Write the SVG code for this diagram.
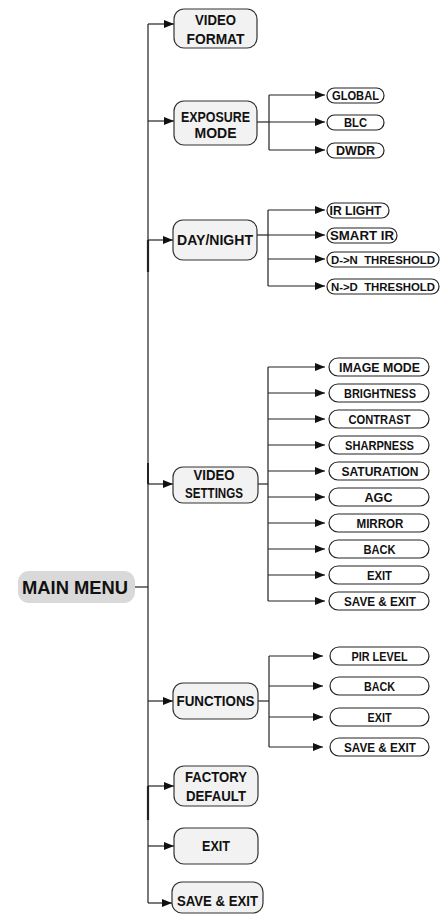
<svg xmlns="http://www.w3.org/2000/svg" width="441" height="914" viewBox="0 0 441 914">
<defs>
<marker id="ah" markerWidth="10" markerHeight="8" refX="10" refY="4" orient="auto" markerUnits="userSpaceOnUse">
<path d="M0,0 L10,4 L0,8 Z" fill="#111"/>
</marker>
<style>
.ln{stroke:#222;stroke-width:1.2;fill:none}
.ar{stroke:#222;stroke-width:1.2;fill:none;marker-end:url(#ah)}
.mn{fill:#f2f2f2;stroke:#333;stroke-width:1.2}
.lf{fill:#fff;stroke:#222;stroke-width:1.2}
.t{font-family:"Liberation Sans",Arial,sans-serif;font-weight:bold;font-size:15px;fill:#111;text-anchor:middle}
.s{font-family:"Liberation Sans",Arial,sans-serif;font-weight:bold;font-size:12.5px;fill:#111;text-anchor:middle}
</style>
</defs>
<rect width="441" height="914" fill="#fff"/>
<g id="connectors">
<line class="ln" x1="148" y1="24" x2="148" y2="903"/>
<line x1="148" y1="240" x2="148" y2="272" stroke="#222" stroke-width="2.2"/>
<line x1="148" y1="786" x2="148" y2="820" stroke="#222" stroke-width="2.2"/>
<line x1="148" y1="463" x2="148" y2="484" stroke="#222" stroke-width="2"/>
<line class="ln" x1="135" y1="587" x2="148" y2="587"/>
<path class="ar" d="M148,24 H174"/>
<path class="ar" d="M148,121 H174"/>
<path class="ar" d="M148,240 H173"/>
<path class="ar" d="M148,484 H173"/>
<path class="ar" d="M148,701 H173"/>
<path class="ar" d="M148,786 H174"/>
<path class="ar" d="M148,846 H174"/>
<path class="ar" d="M148,903 H172"/>
<line class="ln" x1="257" y1="122" x2="269" y2="122"/>
<line class="ln" x1="269" y1="95" x2="269" y2="150"/>
<path class="ar" d="M269,95 H325"/>
<path class="ar" d="M269,122 H325"/>
<path class="ar" d="M269,150 H325"/>
<line class="ln" x1="257" y1="235" x2="268" y2="235"/>
<line class="ln" x1="268" y1="210" x2="268" y2="286"/>
<path class="ar" d="M268,210 H325"/>
<path class="ar" d="M268,235 H325"/>
<path class="ar" d="M268,259 H325"/>
<path class="ar" d="M268,286 H325"/>
<line class="ln" x1="258" y1="484" x2="268" y2="484"/>
<line class="ln" x1="268" y1="367" x2="268" y2="601"/>
<path class="ar" d="M268,367 H325"/>
<path class="ar" d="M268,393 H325"/>
<path class="ar" d="M268,419 H325"/>
<path class="ar" d="M268,445 H325"/>
<path class="ar" d="M268,471 H325"/>
<path class="ar" d="M268,497 H325"/>
<path class="ar" d="M268,523 H325"/>
<path class="ar" d="M268,549 H325"/>
<path class="ar" d="M268,575 H325"/>
<path class="ar" d="M268,601 H325"/>
<line class="ln" x1="258" y1="701" x2="269" y2="701"/>
<line class="ln" x1="269" y1="656" x2="269" y2="747"/>
<path class="ar" d="M269,656 H323"/>
<path class="ar" d="M269,686 H323"/>
<path class="ar" d="M269,717 H323"/>
<path class="ar" d="M269,747 H323"/>
</g>
<g id="main-menu"><rect x="18" y="571" width="117" height="32" rx="11" fill="#d9d9d9"/><text x="75" y="593.5" class="t" style="font-size:18px" textLength="106" lengthAdjust="spacingAndGlyphs">MAIN MENU</text></g>
<g id="video-format"><rect class="mn" x="174" y="9" width="83" height="39" rx="10"/><text class="t" x="215.5" y="25.4" textLength="41" lengthAdjust="spacingAndGlyphs">VIDEO</text><text class="t" x="215.5" y="44.4" textLength="58" lengthAdjust="spacingAndGlyphs">FORMAT</text></g>
<g id="exposure-mode"><rect class="mn" x="174" y="101" width="83" height="44" rx="10"/><text class="t" x="215.5" y="122" style="font-size:14px" textLength="69" lengthAdjust="spacingAndGlyphs">EXPOSURE</text><text class="t" x="215.5" y="138" style="font-size:14px" textLength="42" lengthAdjust="spacingAndGlyphs">MODE</text></g>
<g id="day-night"><rect class="mn" x="173" y="220" width="84" height="40" rx="10"/><text class="t" x="215" y="245.4" textLength="76" lengthAdjust="spacingAndGlyphs">DAY/NIGHT</text></g>
<g id="video-settings"><rect class="mn" x="173" y="467" width="85" height="36" rx="10"/><text class="t" x="214" y="480.4" textLength="41" lengthAdjust="spacingAndGlyphs">VIDEO</text><text class="t" x="214" y="498.4" textLength="58" lengthAdjust="spacingAndGlyphs">SETTINGS</text></g>
<g id="functions"><rect class="mn" x="173" y="683" width="85" height="36" rx="10"/><text class="t" x="215.5" y="706.4" textLength="78" lengthAdjust="spacingAndGlyphs">FUNCTIONS</text></g>
<g id="factory-default"><rect class="mn" x="174" y="766" width="84" height="40" rx="10"/><text class="t" x="216" y="782.4" textLength="62" lengthAdjust="spacingAndGlyphs">FACTORY</text><text class="t" x="216" y="801.4" textLength="60" lengthAdjust="spacingAndGlyphs">DEFAULT</text></g>
<g id="exit"><rect class="mn" x="174" y="828" width="84" height="36" rx="10"/><text class="t" x="216" y="851.4" textLength="28" lengthAdjust="spacingAndGlyphs">EXIT</text></g>
<g id="save-exit"><rect class="mn" x="172" y="882" width="91" height="31" rx="10"/><text class="t" x="217.5" y="906.4" textLength="81" lengthAdjust="spacingAndGlyphs">SAVE &amp; EXIT</text></g>
<g id="global"><rect class="lf" x="327" y="88" width="57" height="15" rx="7.5"/><text class="s" x="355.5" y="100" textLength="47" lengthAdjust="spacingAndGlyphs">GLOBAL</text></g>
<g id="blc"><rect class="lf" x="327" y="115" width="57" height="15" rx="7.5"/><text class="s" x="355.5" y="127" textLength="23" lengthAdjust="spacingAndGlyphs">BLC</text></g>
<g id="dwdr"><rect class="lf" x="327" y="143" width="57" height="15" rx="7.5"/><text class="s" x="355.5" y="155" textLength="39" lengthAdjust="spacingAndGlyphs">DWDR</text></g>
<g id="ir-light"><rect class="lf" x="327" y="203" width="62" height="15" rx="7.5"/><text class="s" x="355.5" y="215" textLength="52" lengthAdjust="spacingAndGlyphs">IR LIGHT</text></g>
<g id="smart-ir"><rect class="lf" x="327" y="228" width="70" height="15" rx="7.5"/><text class="s" x="362" y="240" textLength="64" lengthAdjust="spacingAndGlyphs">SMART IR</text></g>
<g id="dn-threshold"><rect class="lf" x="327" y="252" width="112" height="15" rx="7.5"/><text class="s" x="383" y="264" style="font-size:11.4px" xml:space="preserve">D-&gt;N  THRESHOLD</text></g>
<g id="nd-threshold"><rect class="lf" x="327" y="279" width="112" height="15" rx="7.5"/><text class="s" x="383" y="291" style="font-size:11.4px" xml:space="preserve">N-&gt;D  THRESHOLD</text></g>
<g id="image-mode"><rect class="lf" x="329" y="358" width="100" height="18" rx="9"/><text class="s" x="379.5" y="371.5" textLength="81" lengthAdjust="spacingAndGlyphs">IMAGE MODE</text></g>
<g id="brightness"><rect class="lf" x="329" y="384" width="100" height="18" rx="9"/><text class="s" x="380" y="397.5" textLength="72" lengthAdjust="spacingAndGlyphs">BRIGHTNESS</text></g>
<g id="contrast"><rect class="lf" x="329" y="410" width="100" height="18" rx="9"/><text class="s" x="379.5" y="423.5" textLength="62" lengthAdjust="spacingAndGlyphs">CONTRAST</text></g>
<g id="sharpness"><rect class="lf" x="329" y="436" width="100" height="18" rx="9"/><text class="s" x="379.5" y="449.5" textLength="69" lengthAdjust="spacingAndGlyphs">SHARPNESS</text></g>
<g id="saturation"><rect class="lf" x="329" y="462" width="100" height="18" rx="9"/><text class="s" x="380" y="475.5" textLength="77" lengthAdjust="spacingAndGlyphs">SATURATION</text></g>
<g id="agc"><rect class="lf" x="329" y="488" width="100" height="18" rx="9"/><text class="s" x="378.5" y="501.5" textLength="28" lengthAdjust="spacingAndGlyphs">AGC</text></g>
<g id="mirror"><rect class="lf" x="329" y="514" width="100" height="18" rx="9"/><text class="s" x="380" y="527.5" textLength="47" lengthAdjust="spacingAndGlyphs">MIRROR</text></g>
<g id="vs-back"><rect class="lf" x="329" y="540" width="100" height="18" rx="9"/><text class="s" x="379.5" y="553.5" textLength="32" lengthAdjust="spacingAndGlyphs">BACK</text></g>
<g id="vs-exit"><rect class="lf" x="329" y="566" width="100" height="18" rx="9"/><text class="s" x="379.5" y="579.5" textLength="25" lengthAdjust="spacingAndGlyphs">EXIT</text></g>
<g id="vs-save-exit"><rect class="lf" x="329" y="592" width="100" height="18" rx="9"/><text class="s" x="380" y="605.5" textLength="72" lengthAdjust="spacingAndGlyphs">SAVE &amp; EXIT</text></g>
<g id="pir-level"><rect class="lf" x="330" y="647" width="99" height="18" rx="9"/><text class="s" x="379.5" y="660.5" textLength="56" lengthAdjust="spacingAndGlyphs">PIR LEVEL</text></g>
<g id="fn-back"><rect class="lf" x="330" y="677" width="99" height="18" rx="9"/><text class="s" x="379.5" y="690.5" textLength="31" lengthAdjust="spacingAndGlyphs">BACK</text></g>
<g id="fn-exit"><rect class="lf" x="330" y="708" width="99" height="18" rx="9"/><text class="s" x="379.5" y="721.5" textLength="24" lengthAdjust="spacingAndGlyphs">EXIT</text></g>
<g id="fn-save-exit"><rect class="lf" x="330" y="738" width="99" height="18" rx="9"/><text class="s" x="380" y="751.5" textLength="72" lengthAdjust="spacingAndGlyphs">SAVE &amp; EXIT</text></g>
</svg>
